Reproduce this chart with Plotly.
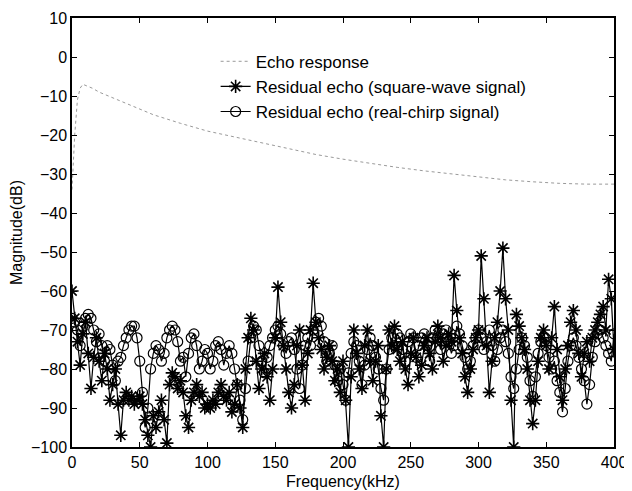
import plotly.graph_objects as go

# Frequency grid for residual echo series (kHz)
freq = list(range(0, 401, 2))

# Residual echo, real-chirp signal (dB)
chirp = [
    -67, -68, -70, -74, -69, -67, -66, -67, -70, -73, -71,
    -74, -78, -74, -75, -79, -83, -78, -77, -74, -72,
    -70, -69, -69, -72, -78, -86, -95, -90, -80, -76,
    -74, -75, -78, -76, -72, -70, -69, -70, -73, -78,
    -77, -82, -76, -72, -71, -74, -80, -78, -75, -76,
    -80, -78, -74, -73, -75, -79, -76, -74, -76, -80,
    -84, -88, -93, -85, -78, -72, -69, -70, -74, -78,
    -81, -77, -74, -72, -70, -69, -71, -74, -76, -73,
    -72, -75, -80, -85, -79, -74, -72, -74, -70, -68,
    -67, -69, -73, -78, -76, -74, -79, -83, -80, -84,
    -88, -81, -76, -73, -74, -78, -84, -79, -75, -72,
    -74, -77, -80, -85, -88, -80, -75, -72, -74, -71,
    -72, -75, -78, -73, -71, -72, -77, -74, -72, -71,
    -74, -78, -72, -70, -72, -75, -71, -70, -73, -76,
    -74, -69, -71, -74, -77, -80, -78, -74, -72, -70,
    -72, -75, -73, -70, -74, -78, -75, -72, -70, -73,
    -76, -82, -85, -80, -75, -72, -74, -77, -83, -87,
    -82, -76, -73, -72, -74, -77, -80, -78, -83, -86,
    -91, -85, -78, -74, -72, -74, -77, -80, -83, -89,
    -84, -77, -73, -71, -70, -72, -74, -76, -78, -71,
]

# Residual echo, square-wave signal (dB)
square = [
    -60, -67, -73, -79, -71, -68, -76, -85, -77, -72, -78,
    -83, -76, -80, -88, -84, -80, -89, -97, -88, -86,
    -88, -87, -89, -88, -87, -89, -93, -97, -100, -92,
    -95, -91, -88, -93, -99, -84, -81, -82, -85, -83,
    -86, -92, -95, -88, -86, -84, -87, -86, -90, -89,
    -90, -88, -89, -86, -84, -87, -88, -86, -91, -89,
    -84, -90, -95, -80, -72, -67, -70, -78, -85, -80,
    -76, -82, -88, -80, -72, -59, -68, -74, -80, -86,
    -90, -84, -74, -70, -79, -88, -76, -70, -58, -68,
    -72, -75, -80, -77, -74, -78, -83, -80, -86, -78,
    -88, -100, -82, -70, -76, -80, -85, -74, -70, -78,
    -83, -78, -74, -92, -100, -80, -70, -74, -69, -75,
    -78, -73, -80, -84, -76, -72, -77, -82, -79, -74,
    -72, -76, -80, -73, -69, -72, -78, -74, -71, -73,
    -56, -65, -72, -76, -82, -86, -80, -75, -72, -70,
    -51, -62, -74, -86, -78, -72, -68, -60, -49, -62,
    -70, -88, -100, -66, -69, -72, -75, -80, -88, -94,
    -88, -78, -72, -70, -74, -80, -72, -64, -75, -82,
    -88, -80, -74, -68, -65, -70, -76, -82, -76, -73,
    -78, -72, -70, -68, -66, -64, -70, -57, -62, -75,
]

# Echo response (dB)
echo_freq = [0, 2, 4, 6, 8, 10, 15, 20, 30, 40, 50, 60, 80, 100, 120, 140,
             160, 180, 200, 220, 240, 260, 280, 300, 320, 340, 360, 380, 400]
echo = [-34, -20, -11, -8, -7, -7.3, -8, -9, -10.5, -12, -13.5, -14.8, -17,
        -19, -20.5, -22, -23.5, -25, -26.2, -27.3, -28.3, -29.2, -30, -30.8,
        -31.5, -32, -32.4, -32.6, -32.6]

x_ticks = [0, 50, 100, 150, 200, 250, 300, 350, 400]
y_ticks = [10, 0, -10, -20, -30, -40, -50, -60, -70, -80, -90, -100]

fig = go.Figure()
fig.add_trace(go.Scatter(
    x=echo_freq, y=echo, mode="lines", name="Echo response",
    line=dict(color="#9a9a9a", width=1, dash="dot"),
))
fig.add_trace(go.Scatter(
    x=freq, y=square, mode="lines+markers",
    name="Residual echo (square-wave signal)",
    line=dict(color="black", width=1.2),
    marker=dict(symbol="asterisk-open", size=11, color="black",
                line=dict(color="black", width=1.6)),
))
fig.add_trace(go.Scatter(
    x=freq, y=chirp, mode="lines+markers",
    name="Residual echo (real-chirp signal)",
    line=dict(color="black", width=1.2),
    marker=dict(symbol="circle-open", size=10, color="black",
                line=dict(color="black", width=1.2)),
))

axis_common = dict(
    showline=True, linecolor="black", linewidth=1.5, mirror="ticks",
    ticks="inside", ticklen=5, tickcolor="black", tickwidth=1.2,
    showgrid=False, zeroline=False, automargin=False,
    tickfont=dict(size=16, color="black"),
)

# The page body adds an 8 px offset, so the figure is sized to fit the window.
fig.update_layout(
    width=624, height=483,
    margin=dict(l=64, r=18, t=10, b=44),
    paper_bgcolor="white", plot_bgcolor="white",
    font=dict(family="Liberation Sans, Arial, sans-serif", size=16, color="black"),
    xaxis=dict(range=[0, 400], tickvals=x_ticks,
               title=dict(text="Frequency(kHz)", standoff=6, font=dict(size=16)),
               **axis_common),
    yaxis=dict(range=[-100, 10], tickvals=y_ticks,
               title=dict(text="Magnitude(dB)", standoff=8, font=dict(size=16)),
               **axis_common),
    legend=dict(x=0.265, y=0.94, xanchor="left", yanchor="top",
                bgcolor="rgba(0,0,0,0)", borderwidth=0,
                font=dict(size=17), tracegroupgap=0, itemwidth=30),
)

fig.write_html("out.html")
